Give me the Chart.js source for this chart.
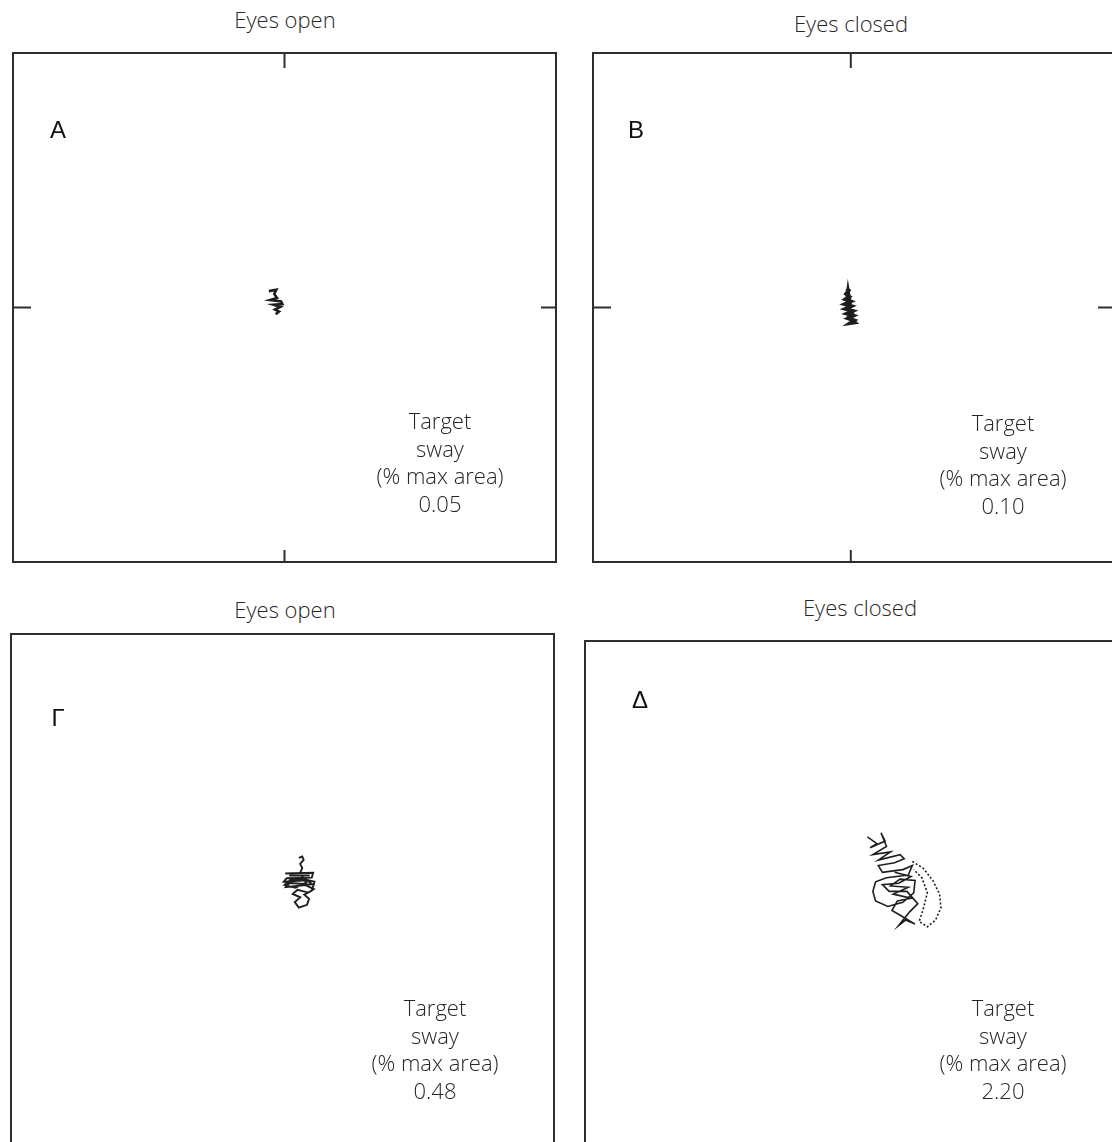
<!DOCTYPE html>
<html>
<head>
<meta charset="utf-8">
<script src="https://cdn.jsdelivr.net/npm/chart.js@4/dist/chart.umd.min.js"></script>
<style>
  html, body { margin: 0; padding: 0; background: #fff; }
  body { width: 1112px; height: 1142px; overflow: hidden; position: relative; }
  .box { position: absolute; }
  .txt { position: absolute; transform: translateX(-50%); white-space: nowrap; text-align: center;
         font-family: "Open Sans", "DejaVu Sans", sans-serif; font-weight: 300; color: #262626;
         font-size: 22px; line-height: 27.5px; }
  .letter { position: absolute; transform: translateX(-50%); font-family: "Liberation Sans", Arial, sans-serif;
            font-size: 24px; line-height: 28px; color: #111; }
</style>
</head>
<body>
<script>
// --- dati (unità arbitrarie, centro del riquadro = 0,0) ---
const panelTitles = ['Eyes open', 'Eyes closed', 'Eyes open', 'Eyes closed'];
const panelLetters = ['A', 'B', 'Γ', 'Δ'];
const swayValues = ['0.05', '0.10', '0.48', '2.20'];

const traceA = [
  {x:-2.3,y:2.4},{x:-1.2,y:2.6},{x:-1.5,y:2.0},{x:-1.1,y:1.4},{x:-2.1,y:1.1},{x:-0.5,y:0.9},
  {x:-0.3,y:0.5},{x:-1.6,y:0.4},{x:-0.6,y:0.1},{x:-1.4,y:-0.3},{x:-0.8,y:-0.6},{x:-1.3,y:-1.0}
];
const traceB = [
  {x:-0.6,y:2.8},{x:-0.3,y:2.5},{x:-0.7,y:2.0},{x:-0.2,y:1.6},{x:-0.8,y:1.2},{x:0.0,y:0.9},
  {x:-0.9,y:0.5},{x:0.1,y:0.2},{x:-0.8,y:-0.2},{x:0.3,y:-0.5},{x:-0.6,y:-0.9},{x:0.4,y:-1.2},
  {x:-0.4,y:-1.6},{x:0.5,y:-1.9},{x:-0.1,y:-2.3},{x:0.6,y:-2.2},{x:-0.3,y:-1.4},{x:0.2,y:-0.8},
  {x:-0.5,y:0.0},{x:-0.1,y:0.7},{x:-0.5,y:1.5},{x:-0.4,y:2.3},{x:-0.2,y:1.1},{x:-0.3,y:-0.3},
  {x:0.1,y:-1.5}
];
const traceGamma = [
  {x:2.4,y:4.5},{x:2.9,y:4.7},{x:3.1,y:4.2},{x:2.6,y:3.6},{x:2.9,y:3.0},{x:2.6,y:2.3},
  {x:0.4,y:2.2},{x:4.5,y:2.3},{x:4.3,y:1.6},{x:0.6,y:1.5},{x:0.2,y:1.0},{x:3.6,y:1.2},
  {x:4.4,y:0.6},{x:1.0,y:0.8},{x:0.5,y:0.2},{x:3.4,y:0.5},{x:4.6,y:-0.1},{x:3.8,y:-0.6},
  {x:2.2,y:-0.2},{x:1.5,y:-0.8},{x:2.6,y:-1.3},{x:1.8,y:-2.0},{x:2.4,y:-2.8},{x:3.6,y:-2.4},
  {x:3.9,y:-1.5},{x:3.2,y:-0.9},{x:4.3,y:-0.3},{x:4.7,y:1.0},{x:3.0,y:1.4},{x:1.2,y:1.3},
  {x:0.3,y:0.5},{x:1.9,y:0.1},{x:3.5,y:0.9},{x:2.8,y:1.9},{x:1.0,y:1.9},{x:4.0,y:1.9}
];
const traceDelta = [
  {x:1.6,y:8.6},{x:3.0,y:7.6},{x:2.0,y:7.0},{x:4.2,y:8.0},{x:3.6,y:9.2},{x:4.4,y:7.2},
  {x:2.4,y:6.0},{x:5.0,y:6.4},{x:3.2,y:5.2},{x:6.4,y:6.0},{x:7.0,y:5.4},{x:5.6,y:4.8},
  {x:3.2,y:4.4},{x:3.8,y:3.4},{x:6.8,y:3.8},{x:8.2,y:4.4},{x:7.6,y:3.0},{x:4.4,y:2.6},
  {x:2.8,y:2.0},{x:2.4,y:0.6},{x:2.8,y:-0.8},{x:4.6,y:-1.6},{x:6.8,y:-1.0},{x:8.4,y:0.4},
  {x:8.6,y:2.2},{x:6.4,y:2.4},{x:5.0,y:1.4},{x:7.6,y:1.2},{x:5.4,y:0.2},{x:8.0,y:-0.4},
  {x:6.0,y:-0.8},{x:5.2,y:-2.2},{x:6.6,y:-3.0},{x:8.6,y:-4.2},{x:7.2,y:-3.6},{x:6.2,y:-4.4},
  {x:7.8,y:-2.4},{x:9.0,y:-1.2},{x:7.4,y:0.6},{x:4.8,y:0.6},{x:3.8,y:1.6},{x:6.2,y:1.8},
  {x:8.0,y:2.8},{x:5.6,y:3.4}
];
const traceDeltaDotted = [
  {x:8.2,y:5.0},{x:9.8,y:4.0},{x:11.2,y:2.2},{x:12.2,y:0.2},{x:12.4,y:-1.8},{x:11.6,y:-3.6},
  {x:10.4,y:-4.6},{x:9.2,y:-3.8},{x:9.8,y:-2.0},{x:10.4,y:0.4},{x:9.6,y:2.6},{x:8.4,y:3.8}
];

// --- pannelli: posizione, dimensione, assi ---
const panels = [
  { left: 12,  top: 52,  w: 545, h: 511, xr: [-40, 40],   yr: [-37.5, 37.5], ticks: true,
    traces: [{ data: traceA, width: 2.6 }],
    title: [285, 6], letter: [58, 116], note: [440, 407] },
  { left: 592, top: 52,  w: 522, h: 511, xr: [-38, 38.65], yr: [-37.5, 37.5], ticks: true,
    traces: [{ data: traceB, width: 3.8 }],
    title: [851, 10], letter: [636, 116], note: [1003, 409] },
  { left: 10,  top: 633, w: 545, h: 511, xr: [-40, 40],   yr: [-37.5, 37.5], ticks: false,
    traces: [{ data: traceGamma, width: 1.9 }],
    title: [285, 596], letter: [58, 704], note: [435, 994] },
  { left: 584, top: 640, w: 545, h: 511, xr: [-40, 40],   yr: [-37.5, 37.5], ticks: false,
    traces: [{ data: traceDelta, width: 1.6 }, { data: traceDeltaDotted, width: 1.6, dash: [2, 2] }],
    title: [860, 594], letter: [640, 686], note: [1003, 994] }
];

// Plugin: riquadro e tacche a metà di ogni lato
const frame = {
  id: 'frame',
  afterDraw(chart, args, opts) {
    const { ctx, chartArea: a } = chart;
    ctx.save();
    ctx.strokeStyle = '#2e2e2e';
    ctx.lineWidth = 2;
    ctx.strokeRect(a.left + 1, a.top + 1, a.right - a.left - 2, a.bottom - a.top - 2);
    if (opts.ticks) {
      const cx = chart.scales.x.getPixelForValue(0);
      const cy = chart.scales.y.getPixelForValue(0);
      ctx.beginPath();
      ctx.moveTo(cx, a.top); ctx.lineTo(cx, a.top + 16);
      ctx.moveTo(cx, a.bottom); ctx.lineTo(cx, a.bottom - 13);
      ctx.moveTo(a.left, cy); ctx.lineTo(a.left + 19, cy);
      ctx.moveTo(a.right, cy); ctx.lineTo(a.right - 16, cy);
      ctx.stroke();
    }
    ctx.restore();
  }
};

function addText(cls, html, x, y) {
  const d = document.createElement('div');
  d.className = cls;
  d.style.left = x + 'px';
  d.style.top = y + 'px';
  d.innerHTML = html;
  document.body.appendChild(d);
}

panels.forEach((p, i) => {
  const wrap = document.createElement('div');
  wrap.className = 'box';
  wrap.style.left = p.left + 'px';
  wrap.style.top = p.top + 'px';
  wrap.style.width = p.w + 'px';
  wrap.style.height = p.h + 'px';
  const cv = document.createElement('canvas');
  wrap.appendChild(cv);
  document.body.appendChild(wrap);

  new Chart(cv, {
    type: 'scatter',
    data: {
      datasets: p.traces.map(t => ({
        data: t.data,
        showLine: true,
        borderColor: '#1e1e1e',
        borderWidth: t.width,
        borderDash: t.dash || [],
        pointRadius: 0,
        tension: 0
      }))
    },
    options: {
      responsive: true,
      maintainAspectRatio: false,
      animation: false,
      layout: { padding: 0 },
      scales: {
        x: { display: false, min: p.xr[0], max: p.xr[1] },
        y: { display: false, min: p.yr[0], max: p.yr[1] }
      },
      plugins: {
        legend: { display: false },
        tooltip: { enabled: false },
        frame: { ticks: p.ticks }
      }
    },
    plugins: [frame]
  });

  addText('txt', panelTitles[i], p.title[0], p.title[1]);
  addText('letter', panelLetters[i], p.letter[0], p.letter[1]);
  addText('txt', 'Target<br>sway<br>(% max area)<br>' + swayValues[i], p.note[0], p.note[1]);
});
</script>
</body>
</html>
